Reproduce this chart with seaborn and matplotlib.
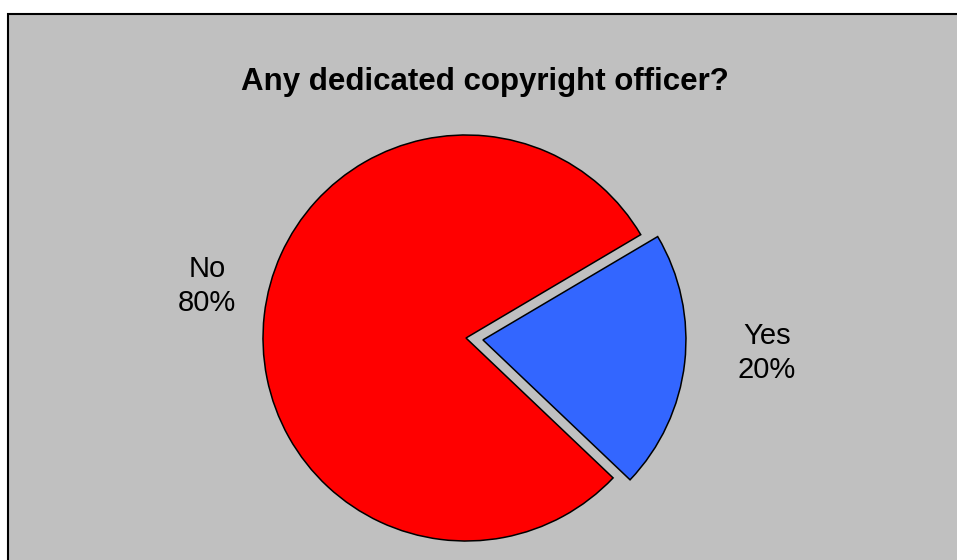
import matplotlib
matplotlib.use("Agg")
import matplotlib.pyplot as plt
import seaborn as sns
from matplotlib.patches import Rectangle

categories = ["No", "Yes"]
values = [79.4, 20.6]
pct_labels = ["80%", "20%"]
colors = ["#FF0000", "#3366FF"]
title = "Any dedicated copyright officer?"

sns.set_style("white")
plt.rcParams['font.family'] = ['Liberation Sans', 'DejaVu Sans']
plt.rcParams['text.color'] = 'black'

W, H = 957, 560
fig = plt.figure(figsize=(W / 100, H / 100), dpi=100)
fig.patch.set_facecolor("white")

# gray chart area with black border (extends past right/bottom edges)
fig.patches.append(Rectangle((8 / W, -0.1), 1.2, (H - 14) / H + 0.1,
                             transform=fig.transFigure, facecolor="#C0C0C0",
                             edgecolor="black", linewidth=1.5, zorder=-5))

ax = fig.add_axes([0, 0, 1, 1])
ax.set_facecolor("none")
ax.set_zorder(2)

cx, cy, R = 466, 338, 203
wedges, texts = ax.pie(values, colors=colors, startangle=30.6,
                       explode=[0, 0.084], radius=1,
                       labels=[f"{c}\n{p}" for c, p in zip(categories, pct_labels)],
                       wedgeprops=dict(edgecolor="black", linewidth=1.1),
                       textprops=dict(fontsize=21, color="black"))
ax.set_aspect("auto")
ax.set_xlim(-cx / R, (W - cx) / R)
ax.set_ylim(-(H - cy) / R, cy / R)
ax.axis("off")

label_px = [(207, 286), (767, 353)]
for t, (px, py) in zip(texts, label_px):
    t.set_position(((px - cx) / R, (cy - py) / R))
    t.set_ha("center")
    t.set_va("center")
    t.set_linespacing(1.27)

fig.text(485 / W, 1 - 82 / H, title, ha="center", va="center",
         fontsize=22.5, fontweight="bold", color="black", zorder=3)

fig.savefig("out.png", dpi=100)
